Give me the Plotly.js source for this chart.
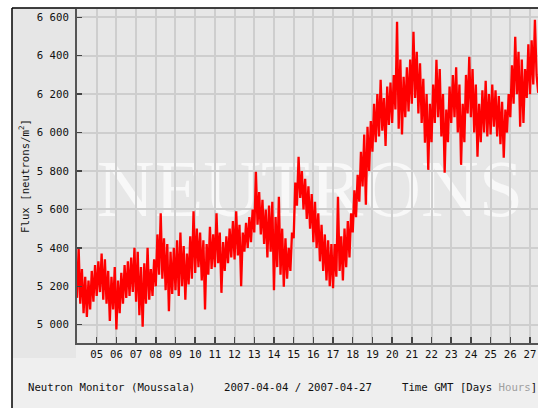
<!DOCTYPE html>
<html>
<head>
<meta charset="utf-8">
<script src="https://cdn.plot.ly/plotly-3.0.1.min.js"></script>
<style>html,body{margin:0;padding:0;background:#fff}#chart{width:538px;height:408px}</style>
</head>
<body>
<div id="chart"></div>
<script>
// Moussala neutron monitor, 2007-04-04 .. 2007-04-27, readings every 2 hours
var startTime = '2007-04-04T00:00:00Z';
var stepHours = 2;
var flux = [
  // Apr 04
  5140, 5400, 5110, 5290, 5060, 5250, 5040, 5230, 5080, 5280, 5120, 5310,
  // Apr 05
  5150, 5330, 5170, 5370, 5130, 5340, 5110, 5280, 5020, 5250, 5080, 5300,
  // Apr 06
  4975, 5230, 5060, 5270, 5110, 5310, 5140, 5330, 5150, 5350, 5170, 5400,
  // Apr 07
  5120, 5380, 5050, 5300, 4990, 5320, 5110, 5400, 5130, 5290, 5150, 5340,
  // Apr 08
  5200, 5470, 5260, 5580, 5240, 5450, 5180, 5420, 5070, 5380, 5160, 5400,
  // Apr 09
  5180, 5440, 5150, 5480, 5200, 5410, 5130, 5370, 5210, 5460, 5240, 5590,
  // Apr 10
  5270, 5500, 5300, 5480, 5230, 5440, 5080, 5420, 5260, 5510, 5290, 5470,
  // Apr 11
  5300, 5580, 5320, 5480, 5166, 5430, 5280, 5460, 5320, 5500, 5350, 5540,
  // Apr 12
  5340, 5590, 5360, 5520, 5200, 5480, 5380, 5530, 5400, 5560, 5430, 5600,
  // Apr 13
  5480, 5796, 5520, 5690, 5470, 5650, 5420, 5600, 5350, 5620, 5380, 5640,
  // Apr 14
  5180, 5560, 5300, 5666, 5260, 5500, 5198, 5450, 5240, 5400, 5280, 5480,
  // Apr 15
  5450, 5740, 5620, 5874, 5660, 5800, 5600, 5760, 5550, 5720, 5500, 5680,
  // Apr 16
  5430, 5640, 5400, 5580, 5330, 5520, 5280, 5470, 5230, 5440, 5200, 5420,
  // Apr 17
  5190, 5420, 5250, 5666, 5280, 5460, 5230, 5500, 5300, 5540, 5350, 5580,
  // Apr 18
  5480, 5700, 5560, 5780, 5640, 5900, 5720, 5990, 5624, 6030, 5800, 6060,
  // Apr 19
  5900, 6150, 5950, 6200, 5980, 6275, 6010, 6180, 5930, 6240, 6040, 6260,
  // Apr 20
  6050, 6300, 6120, 6577, 6020, 6380, 5990, 6290, 6080, 6340, 6110, 6380,
  // Apr 21
  6150, 6524, 6180, 6420, 6100, 6360, 6050, 6280, 5947, 6200, 5806, 6150,
  // Apr 22
  5950, 6250, 6050, 6379, 6080, 6330, 5980, 6200, 5791, 6120, 5950, 6240,
  // Apr 23
  6050, 6300, 6080, 6340, 6000, 6250, 5832, 6150, 5950, 6300, 6100, 6394,
  // Apr 24
  6080, 6330, 6000, 6250, 5874, 6150, 5950, 6220, 6000, 6270, 5980, 6200,
  // Apr 25
  5990, 6250, 6030, 6220, 5980, 6190, 5940, 6160, 5869, 6120, 6000, 6200,
  // Apr 26
  6080, 6350, 6150, 6498, 6200, 6420, 6030, 6380, 6050, 6330, 6180, 6460,
  // Apr 27
  6200, 6480, 6250, 6587, 6300, 6207
];
var dayTicks = ['2007-04-05', '2007-04-06', '2007-04-07', '2007-04-08', '2007-04-09',
  '2007-04-10', '2007-04-11', '2007-04-12', '2007-04-13', '2007-04-14', '2007-04-15',
  '2007-04-16', '2007-04-17', '2007-04-18', '2007-04-19', '2007-04-20', '2007-04-21',
  '2007-04-22', '2007-04-23', '2007-04-24', '2007-04-25', '2007-04-26', '2007-04-27'];
var dayLabels = ['05', '06', '07', '08', '09', '10', '11', '12', '13', '14', '15', '16',
  '17', '18', '19', '20', '21', '22', '23', '24', '25', '26', '27'];
var yTickValues = [5000, 5200, 5400, 5600, 5800, 6000, 6200, 6400, 6600];
var xRange = ['2007-04-04 00:00', '2007-04-27 09:45'];
var yRange = [4905, 6643];
var monitorLabel = 'Neutron Monitor (Moussala)';
var periodLabel = '2007-04-04 / 2007-04-27';
var timeLabel = 'Time GMT [Days <span style="color:#a0a0a0">Hours</span>]';
var yTitle = 'Flux [neutrons/m<sup>2</sup>]';
var watermark = 'NEUTRONS';

var t0 = Date.parse(startTime);
var times = flux.map(function (v, i) {
  var d = new Date(t0 + i * stepHours * 3600000);
  return d.toISOString().slice(0, 19).replace('T', ' ');
});

var mono = 'DejaVu Sans Mono, Liberation Mono, monospace';
var L = 77, T = 9, W = 461, H = 334;
function px(x) { return (x - L) / W; }
function py(y) { return 1 - (y - T) / H; }

var trace = {
  type: 'scatter', mode: 'lines',
  x: times, y: flux,
  line: {color: '#ff0000', width: 2.3},
  hoverinfo: 'skip'
};

var layout = {
  width: 538, height: 408,
  margin: {l: L, r: 0, t: T, b: 408 - T - H, pad: 0},
  paper_bgcolor: '#efefef',
  plot_bgcolor: '#e7e7e7',
  separators: '. ',
  showlegend: false,
  font: {family: mono, size: 10.7, color: '#111'},
  xaxis: {
    type: 'date', range: xRange,
    tickvals: dayTicks, ticktext: dayLabels,
    showgrid: true, gridcolor: '#cecece', gridwidth: 2,
    showline: true, linecolor: '#555', linewidth: 2,
    ticks: 'inside', ticklen: 6, tickwidth: 1.5, tickcolor: '#444',
    zeroline: false, fixedrange: true,
    tickfont: {family: mono, size: 10.7, color: '#111'}
  },
  yaxis: {
    range: yRange,
    tickvals: yTickValues, tickformat: ',d',
    showgrid: true, gridcolor: '#cecece', gridwidth: 2,
    showline: true, linecolor: '#555', linewidth: 2,
    ticks: 'inside', ticklen: 5, tickwidth: 1.5, tickcolor: '#444',
    zeroline: false, fixedrange: true,
    ticklabelstandoff: 4,
    tickfont: {family: mono, size: 10.7, color: '#111'},
    title: {text: yTitle, font: {family: mono, size: 10.7, color: '#111'}, standoff: 5}
  },
  shapes: [
    {type: 'rect', xref: 'paper', yref: 'paper', x0: px(0), x1: px(12), y0: py(408), y1: py(0), fillcolor: '#ffffff', line: {width: 0}, layer: 'below'},
    {type: 'rect', xref: 'paper', yref: 'paper', x0: px(0), x1: px(538), y0: py(8), y1: py(0), fillcolor: '#ffffff', line: {width: 0}, layer: 'below'},
    {type: 'rect', xref: 'paper', yref: 'paper', x0: px(12.5), x1: px(76), y0: py(358), y1: py(8.5), fillcolor: '#e6e6e6', line: {width: 0}, layer: 'below'},
    {type: 'line', xref: 'paper', yref: 'paper', x0: px(12), x1: px(538), y0: py(8), y1: py(8), line: {color: '#000', width: 1.5}},
    {type: 'line', xref: 'paper', yref: 'paper', x0: px(12), x1: px(12), y0: py(8), y1: py(408), line: {color: '#000', width: 1.5}},
    {type: 'rect', xref: 'paper', yref: 'paper', x0: px(95), x1: px(525), y0: py(215), y1: py(145),
     fillcolor: 'rgba(0,0,0,0)', line: {width: 0}, layer: 'below',
     label: {text: watermark, textposition: 'middle center',
             font: {family: 'Liberation Serif, Times New Roman, serif', size: 80, color: '#f8f8f8'}}}
  ],
  annotations: [
    {xref: 'paper', yref: 'paper', x: px(26), y: py(387), xanchor: 'left', yanchor: 'middle', showarrow: false, text: monitorLabel, font: {family: mono, size: 10.7, color: '#111'}},
    {xref: 'paper', yref: 'paper', x: px(222), y: py(387), xanchor: 'left', yanchor: 'middle', showarrow: false, text: periodLabel, font: {family: mono, size: 10.7, color: '#111'}},
    {xref: 'paper', yref: 'paper', x: px(400), y: py(387), xanchor: 'left', yanchor: 'middle', showarrow: false, text: timeLabel, font: {family: mono, size: 10.7, color: '#111'}}
  ]
};

Plotly.newPlot('chart', [trace], layout, {staticPlot: true, displayModeBar: false});
</script>
</body>
</html>
